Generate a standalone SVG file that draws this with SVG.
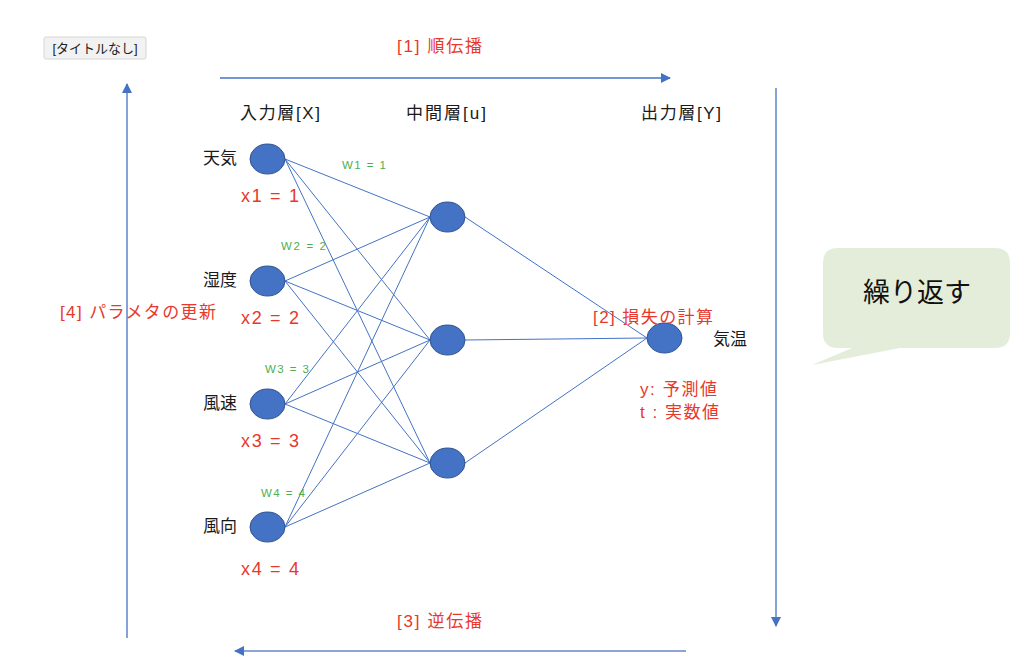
<svg xmlns="http://www.w3.org/2000/svg" width="1024" height="669" viewBox="0 0 1024 669">
<style>
text{font-family:"Liberation Sans","Noto Sans CJK JP",sans-serif}
.lbl{font-size:17px;fill:#1a1a1a}
.red{font-size:17px;fill:#e8382c}
.x{font-size:18px;fill:#e8382c}
.w{font-size:11.5px;fill:#4caf50}
.node{fill:#4472c4;stroke:#2f528f;stroke-width:1}
.edge{stroke:#4472c4;stroke-width:1;fill:none}
.arr{stroke:#4472c4;stroke-width:1.3;fill:none}
</style>
<defs>
<marker id="ah" viewBox="0 0 10 10" refX="9" refY="5" markerWidth="10" markerHeight="10" markerUnits="userSpaceOnUse" orient="auto"><path d="M0,0 L10,5 L0,10 z" fill="#4472c4"/></marker>
</defs>
<rect width="1024" height="669" fill="#ffffff"/>
<g id="title-button">
<rect x="44" y="37" width="102" height="22" rx="2" fill="#f2f2f2" stroke="#d6d6d6"/>
<text x="95" y="53" text-anchor="middle" style="font-size:13px;fill:#222">[タイトルなし]</text>
</g>
<g id="connectors">
<line class="edge" x1="285" y1="159" x2="430" y2="217"/>
<line class="edge" x1="285" y1="159" x2="430" y2="340"/>
<line class="edge" x1="285" y1="159" x2="430" y2="463"/>
<line class="edge" x1="285" y1="281" x2="430" y2="217"/>
<line class="edge" x1="285" y1="281" x2="430" y2="340"/>
<line class="edge" x1="285" y1="281" x2="430" y2="463"/>
<line class="edge" x1="285" y1="404" x2="430" y2="217"/>
<line class="edge" x1="285" y1="404" x2="430" y2="340"/>
<line class="edge" x1="285" y1="404" x2="430" y2="463"/>
<line class="edge" x1="285" y1="527" x2="430" y2="217"/>
<line class="edge" x1="285" y1="527" x2="430" y2="340"/>
<line class="edge" x1="285" y1="527" x2="430" y2="463"/>
<line class="edge" x1="465" y1="217" x2="647" y2="338"/>
<line class="edge" x1="465" y1="340" x2="647" y2="338"/>
<line class="edge" x1="465" y1="463" x2="647" y2="338"/>
<line class="arr" x1="220" y1="78" x2="670" y2="78" marker-end="url(#ah)"/>
<line class="arr" x1="776" y1="88" x2="776" y2="626" marker-end="url(#ah)"/>
<line x1="686" y1="651" x2="235" y2="651" stroke="#8ba5d8" stroke-width="2" marker-end="url(#ah)"/>
<line class="arr" x1="127" y1="638" x2="127" y2="84" marker-end="url(#ah)"/>
</g>
<g id="layer-labels">
<text class="lbl" x="240" y="119" textLength="80" lengthAdjust="spacing">入力層[X]</text>
<text class="lbl" x="406" y="119" textLength="80" lengthAdjust="spacing">中間層[u]</text>
<text class="lbl" x="641" y="119" textLength="80" lengthAdjust="spacing">出力層[Y]</text>
</g>
<g id="in1"><ellipse class="node" cx="267.5" cy="159" rx="17.5" ry="15"/><text class="lbl" x="203" y="164">天気</text><text class="x" x="241" y="202" textLength="58" lengthAdjust="spacing">x1 = 1</text><text class="w" x="342" y="169" textLength="44" lengthAdjust="spacing">W1 = 1</text></g>
<g id="in2"><ellipse class="node" cx="267.5" cy="281" rx="17.5" ry="15"/><text class="lbl" x="203" y="286">湿度</text><text class="x" x="241" y="324" textLength="58" lengthAdjust="spacing">x2 = 2</text><text class="w" x="281" y="250" textLength="45" lengthAdjust="spacing">W2 = 2</text></g>
<g id="in3"><ellipse class="node" cx="267.5" cy="404" rx="17.5" ry="15"/><text class="lbl" x="203" y="409">風速</text><text class="x" x="241" y="447" textLength="58" lengthAdjust="spacing">x3 = 3</text><text class="w" x="265" y="373" textLength="44" lengthAdjust="spacing">W3 = 3</text></g>
<g id="in4"><ellipse class="node" cx="267.5" cy="527" rx="17.5" ry="15"/><text class="lbl" x="203" y="532">風向</text><text class="x" x="241" y="575" textLength="58" lengthAdjust="spacing">x4 = 4</text><text class="w" x="261" y="497" textLength="44" lengthAdjust="spacing">W4 = 4</text></g>
<g id="h1"><ellipse class="node" cx="447.5" cy="217" rx="17.5" ry="15"/></g>
<g id="h2"><ellipse class="node" cx="447.5" cy="340" rx="17.5" ry="15"/></g>
<g id="h3"><ellipse class="node" cx="447.5" cy="463" rx="17.5" ry="15"/></g>
<g id="out"><ellipse class="node" cx="664.5" cy="338" rx="17.5" ry="15"/><text class="lbl" x="713" y="345">気温</text>
<text class="red" x="640" y="395" textLength="77" lengthAdjust="spacing">y: 予測値</text><text class="red" x="640" y="418" textLength="79" lengthAdjust="spacing">t : 実数値</text></g>
<g id="step-labels">
<text class="red" x="397" y="52" textLength="85" lengthAdjust="spacing">[1] 順伝播</text>
<text class="red" x="593" y="323" textLength="120" lengthAdjust="spacing">[2] 損失の計算</text>
<text class="red" x="397" y="627" textLength="85" lengthAdjust="spacing">[3] 逆伝播</text>
<text class="red" x="60" y="318" textLength="156" lengthAdjust="spacing">[4] パラメタの更新</text>
</g>
<g id="bubble">
<path d="M838,248 H995 Q1010,248 1010,263 V333 Q1010,348 995,348 H900 L812,365 L852,348 H838 Q823,348 823,333 V263 Q823,248 838,248 Z" fill="#e4edd9"/>
<text x="917" y="302" text-anchor="middle" style="font-size:27px;fill:#111">繰り返す</text>
</g>
</svg>
